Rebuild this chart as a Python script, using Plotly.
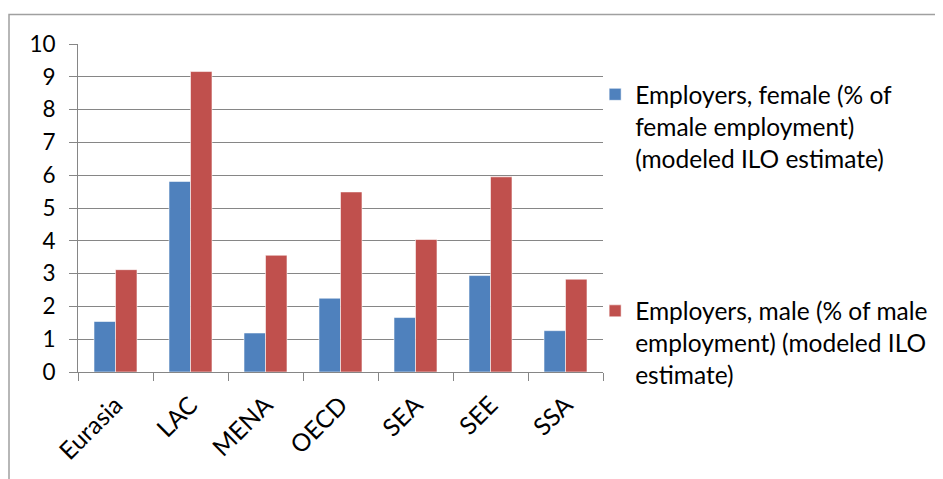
import plotly.graph_objects as go

categories = ["Eurasia", "LAC", "MENA", "OECD", "SEA", "SEE", "SSA"]
female = [1.54, 5.81, 1.19, 2.25, 1.66, 2.94, 1.26]
male = [3.12, 9.16, 3.56, 5.49, 4.04, 5.95, 2.83]
female_name = "Employers, female (% of<br>female employment)<br>(modeled ILO estimate)"
male_name = "Employers, male (% of male<br>employment) (modeled ILO<br>estimate)"
y_ticks = list(range(0, 11))

FONT = "Lato, 'Open Sans', sans-serif"

fig = go.Figure()
fig.add_trace(go.Bar(x=categories, y=female, name=female_name, legendgroup="f",
                     marker=dict(color="#4F81BD", line=dict(color="rgba(255,255,255,0.7)", width=0.8))))
fig.add_trace(go.Bar(x=categories, y=male, name=male_name, legendgroup="m",
                     marker=dict(color="#C0504D", line=dict(color="rgba(255,255,255,0.7)", width=0.8))))

fig.update_layout(
    width=943, height=479,
    margin=dict(l=70, r=348, t=36, b=115, autoexpand=False),
    paper_bgcolor="white", plot_bgcolor="white",
    font=dict(family=FONT, size=22, color="black"),
    barmode="group", bargap=0.427, bargroupgap=0,
    showlegend=True,
    legend=dict(x=0.985, xanchor="left", y=0.915, yanchor="top",
                font=dict(family=FONT, size=24.5, color="black"),
                tracegroupgap=118, traceorder="grouped", valign="top",
                bgcolor="rgba(0,0,0,0)", itemclick=False),
    xaxis=dict(type="category", tickangle=-45, showgrid=False, automargin=False,
               showline=True, linecolor="#868686", linewidth=1,
               ticks="outside", ticklen=8, tickcolor="#868686",
               tickson="boundaries", tickfont=dict(size=24.5), ticklabelstandoff=8),
    yaxis=dict(range=[0, 10], tickvals=y_ticks, showgrid=True, automargin=False,
               gridcolor="#868686", gridwidth=1,
               showline=True, linecolor="#868686", linewidth=1,
               ticks="outside", ticklen=8, tickcolor="#868686",
               zeroline=False, tickfont=dict(size=22.5), ticklabelstandoff=9),
    shapes=[dict(type="rect", xref="paper", yref="paper",
                 x0=(1 - 70) / 525, x1=2.0, y0=-1.0, y1=1 + (36 - 6.5) / 328,
                 line=dict(color="#A0A0A0", width=1.5), fillcolor="rgba(0,0,0,0)",
                 layer="below")],
)

fig.write_html("out.html")
